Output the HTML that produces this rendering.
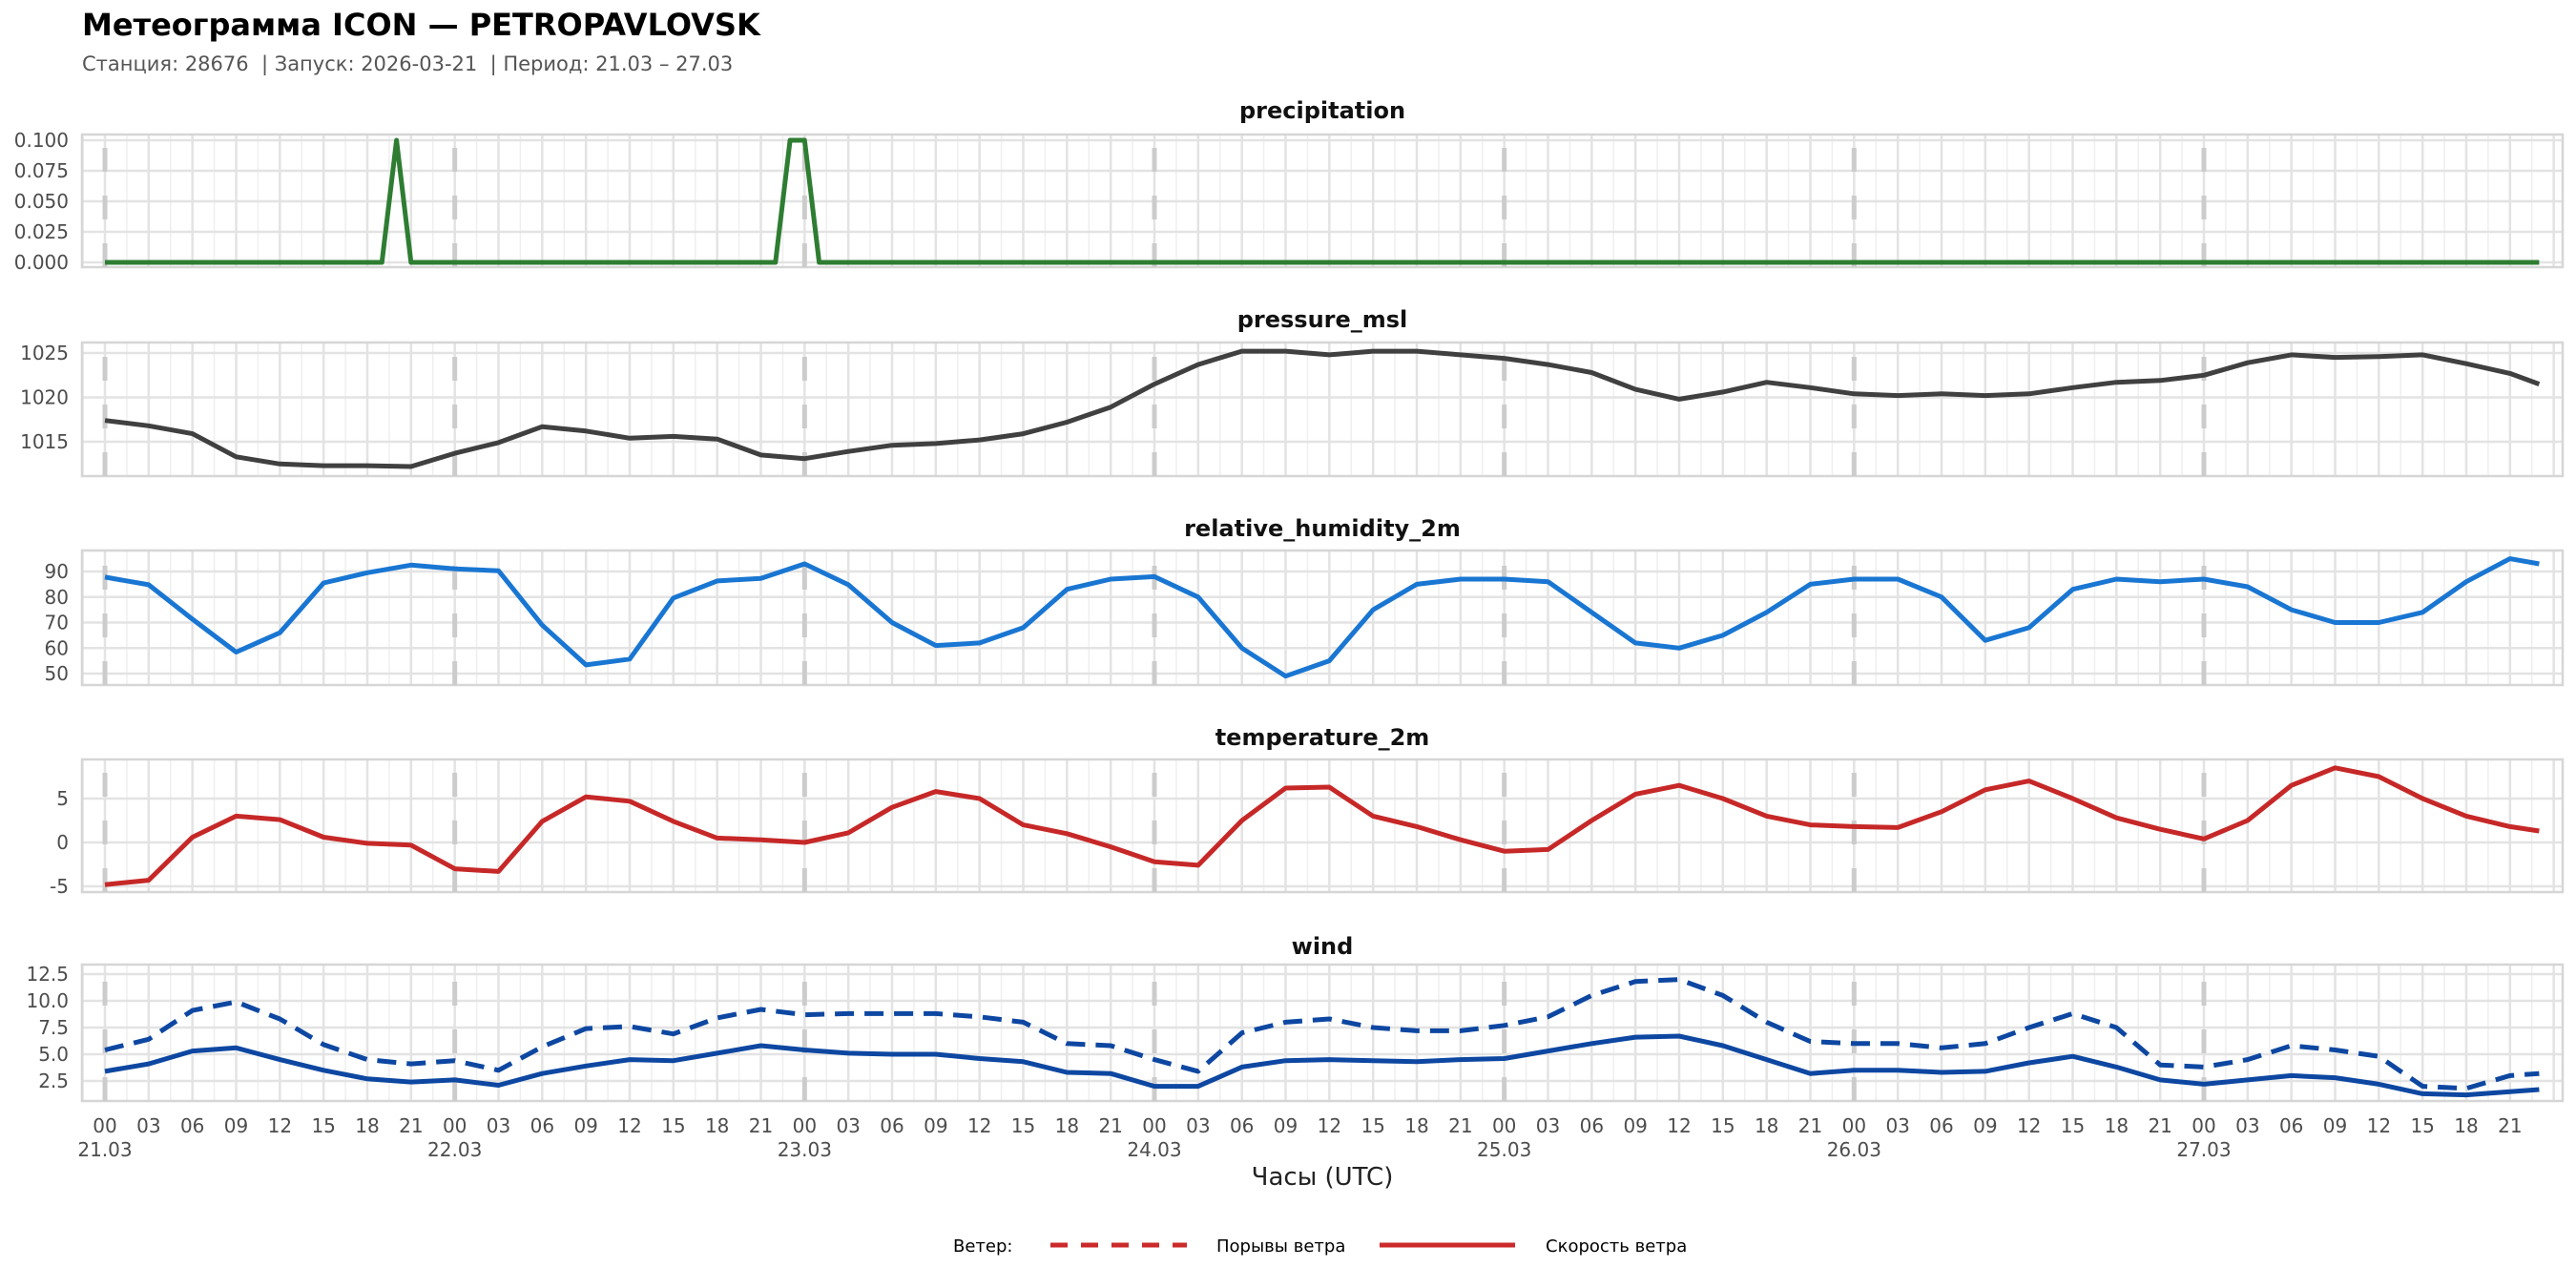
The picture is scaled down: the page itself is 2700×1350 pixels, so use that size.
<!DOCTYPE html>
<html><head><meta charset="utf-8"><style>
body{margin:0;background:#fff;}
svg{display:block;font-family:"DejaVu Sans","Liberation Sans",sans-serif;}
</style></head><body>
<svg id="chart" width="2700" height="1350" xmlns="http://www.w3.org/2000/svg">
<text x="86" y="37" font-size="32" font-weight="bold" fill="#000">Метеограмма ICON — PETROPAVLOVSK</text>
<text x="86" y="74" font-size="21" fill="#555" style="white-space:pre" xml:space="preserve">Станция: 28676  | Запуск: 2026-03-21  | Период: 21.03 – 27.03</text>
<g id="panels"></g>
<text x="1386" y="1242" font-size="26" text-anchor="middle" fill="#222">Часы (UTC)</text>
<g>
<text x="999" y="1312" font-size="18" fill="#000">Ветер:</text>
<line x1="1101" y1="1305" x2="1244" y2="1305" stroke="#cc2a2a" stroke-width="5" stroke-dasharray="18 14"/>
<text x="1275" y="1312" font-size="18" fill="#000">Порывы ветра</text>
<line x1="1446" y1="1305" x2="1588" y2="1305" stroke="#cc2a2a" stroke-width="5"/>
<text x="1620" y="1312" font-size="18" fill="#000">Скорость ветра</text>
</g>
</svg>
<script>
const hours3 = [0,3,6,9,12,15,18,21,24,27,30,33,36,39,42,45,48,51,54,57,60,63,66,69,72,75,78,81,84,87,90,93,96,99,102,105,108,111,114,117,120,123,126,129,132,135,138,141,144,147,150,153,156,159,162,165,167];
const precipHours = [0,19,20,21,46,47,48,49,167];
const precipValues = [0,0,0.1,0,0,0.1,0.1,0,0];
const pressureValues = [1017.4,1016.8,1015.9,1013.3,1012.5,1012.3,1012.3,1012.2,1013.7,1014.9,1016.7,1016.2,1015.4,1015.6,1015.3,1013.5,1013.1,1013.9,1014.6,1014.8,1015.2,1015.9,1017.2,1018.9,1021.5,1023.7,1025.2,1025.2,1024.8,1025.2,1025.2,1024.8,1024.4,1023.7,1022.8,1020.9,1019.8,1020.6,1021.7,1021.1,1020.4,1020.2,1020.4,1020.2,1020.4,1021.1,1021.7,1021.9,1022.5,1023.9,1024.8,1024.5,1024.6,1024.8,1023.8,1022.7,1021.5];
const humidityValues = [87.8,84.8,71.3,58.4,66,85.5,89.5,92.5,91,90.3,69,53.4,55.7,79.6,86.3,87.3,93,84.8,70,61,62,68,83,87,88,80,60,49,55,75,85,87,87,86,74,62,60,65,74,85,87,87,80,63,68,83,87,86,87,84,75,70,70,74,86,95,93];
const temperatureValues = [-4.8,-4.3,0.6,3.0,2.6,0.6,-0.1,-0.3,-3.0,-3.3,2.4,5.2,4.7,2.4,0.5,0.3,0,1.1,4.0,5.8,5.0,2.0,1.0,-0.5,-2.2,-2.6,2.5,6.2,6.3,3.0,1.8,0.3,-1.0,-0.8,2.5,5.5,6.5,5.0,3.0,2.0,1.8,1.7,3.5,6.0,7.0,5.0,2.8,1.5,0.4,2.5,6.5,8.5,7.5,5.0,3.0,1.8,1.3];
const windSpeedValues = [3.4,4.1,5.3,5.6,4.5,3.5,2.7,2.4,2.6,2.1,3.2,3.9,4.5,4.4,5.1,5.8,5.4,5.1,5.0,5.0,4.6,4.3,3.3,3.2,2.0,2.0,3.8,4.4,4.5,4.4,4.3,4.5,4.6,5.3,6.0,6.6,6.7,5.8,4.5,3.2,3.5,3.5,3.3,3.4,4.2,4.8,3.8,2.6,2.2,2.6,3.0,2.8,2.2,1.3,1.2,1.5,1.7];
const windGustValues = [5.4,6.4,9.1,9.9,8.3,5.9,4.5,4.1,4.4,3.5,5.7,7.4,7.6,6.9,8.4,9.2,8.7,8.8,8.8,8.8,8.5,8.0,6.0,5.8,4.5,3.4,7.0,8.0,8.3,7.5,7.2,7.2,7.7,8.5,10.5,11.8,12.0,10.5,8.0,6.2,6.0,6.0,5.6,6.0,7.5,8.8,7.5,4.0,3.8,4.5,5.8,5.4,4.8,2.0,1.8,3.0,3.2];
const dateLabels = ["21.03","22.03","23.03","24.03","25.03","26.03","27.03"];
const precipTicks = [0,0.025,0.05,0.075,0.1];
const pressureTicks = [1015,1020,1025];
const humidityTicks = [50,60,70,80,90];
const temperatureTicks = [-5,0,5];
const windTicks = [2.5,5,7.5,10,12.5];

const NS = "http://www.w3.org/2000/svg";
const root = document.getElementById('panels');
const X0 = 110, PXH = 2200/144, LEFT = 86, RIGHT = 2686;
function xs(h){ return X0 + h*PXH; }
function mk(tag, attrs, parent){ const e=document.createElementNS(NS,tag); for(const k in attrs) e.setAttribute(k,attrs[k]); parent.appendChild(e); return e; }
function fmt(v,dec){ return v.toFixed(dec); }

function panel(name, top, bottom, yAt, ticks, dec, title, titleY){
  const g = mk('g',{},root);
  
  
  const ys = v => yAt[0] + (v - yAt[1])*(yAt[2]-yAt[0])/(yAt[3]-yAt[1]);
  const t = mk('text',{x:1386,y:titleY,'font-size':24,'font-weight':'bold','text-anchor':'middle',fill:'#111'},g);
  t.textContent = title;
  
  
  for(let h=-1.5; h<=168; h+=1.5){
    const x=xs(h); if(x<LEFT||x>RIGHT) continue;
    const major = Math.abs(h/3-Math.round(h/3))<1e-6;
    const l = mk('line',{x1:x,x2:x,y1:top,y2:bottom,stroke:major?'#e3e3e3':'#efefef','stroke-width':major?2.5:1.5},g);
    
    
  }
  ticks.forEach(v=>{
    const y=ys(v);
    const l = mk('line',{x1:LEFT,x2:RIGHT,y1:y,y2:y,stroke:'#e3e3e3','stroke-width':2.5},g);
    
    
    const tt = mk('text',{x:72,y:y+7,'font-size':20,'text-anchor':'end',fill:'#4d4d4d'},g);
    tt.textContent = fmt(v,dec);
    
    
  });
  const fr = mk('rect',{x:LEFT,y:top,width:RIGHT-LEFT,height:bottom-top,fill:'none',stroke:'#d6d6d6','stroke-width':2.5},g);
  
  
  for(let d=0; d<7; d++){
    const x=xs(d*24);
    const l = mk('line',{x1:x,x2:x,y1:bottom,y2:top,stroke:'#cccccc','stroke-width':5,'stroke-dasharray':'25 25'},g);
    
    
  }
  return {g, ys};
}
function series(p, hs, vals, color, name, dash){
  const d = hs.map((h,i)=>(i?'L':'M')+xs(h).toFixed(1)+' '+p.ys(vals[i]).toFixed(1)).join(' ');
  const a = {d:d,fill:'none',stroke:color,'stroke-width':5,'stroke-linejoin':'round'};
  if(dash) a['stroke-dasharray']=dash;
  const path = mk('path',a,p.g);
  
  
}
const pp = panel('precipitation',141,280,[275,0,147,0.1],precipTicks,3,'precipitation',124);
series(pp, precipHours, precipValues, '#2e7d32', 'precipitation-line');
const pr = panel('pressure',359,499,[370,1025,463,1015],pressureTicks,0,'pressure_msl',343);
series(pr, hours3, pressureValues, '#404040', 'pressure-line');
const rh = panel('humidity',577,718,[599,90,706,50],humidityTicks,0,'relative_humidity_2m',562);
series(rh, hours3, humidityValues, '#1976d2', 'humidity-line');
const tp = panel('temperature',796,935,[837,5,883,0],temperatureTicks,0,'temperature_2m',781);
series(tp, hours3, temperatureValues, '#c62828', 'temperature-line');
const wd = panel('wind',1011,1154,[1021,12.5,1133,2.5],windTicks,1,'wind',1000);
series(wd, hours3, windGustValues, '#0d47a1', 'wind-gust-line', '20 11');
series(wd, hours3, windSpeedValues, '#0d47a1', 'wind-speed-line');

const ax = mk('g',{},root);


for(let h=0; h<168; h+=3){
  const t = mk('text',{x:xs(h),y:1187,'font-size':20,'text-anchor':'middle',fill:'#4d4d4d'},ax);
  t.textContent = String(h%24).padStart(2,'0');
  
  
}
dateLabels.forEach((s,i)=>{
  const t = mk('text',{x:xs(i*24),y:1212,'font-size':20,'text-anchor':'middle',fill:'#4d4d4d'},ax);
  t.textContent = s;
  
  
});
</script>
</body></html>
